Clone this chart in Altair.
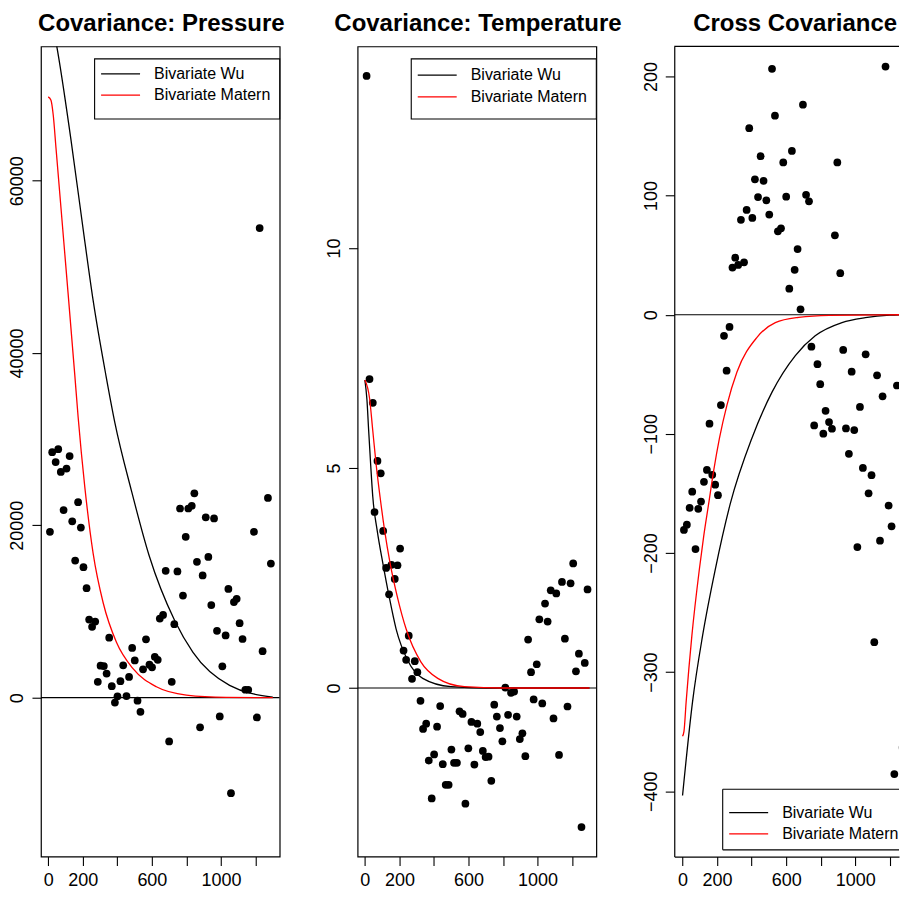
import altair as alt
import pandas as pd

# ---------------- data ----------------
PRES_X = [10, 23, 43, 58, 73, 89, 106, 124, 139, 156, 173, 189, 204, 222, 237, 254, 272, 287, 303, 322,
          338, 353, 368, 386, 401, 418, 434, 453, 468, 486, 501, 517, 534, 549, 566, 586, 601, 617, 634, 646,
          665, 680, 700, 715, 730, 748, 763, 780, 796, 811, 831, 846, 861, 879, 894, 912, 927, 944, 960, 977,
          993, 1008, 1027, 1043, 1058, 1075, 1091, 1108, 1125, 1141, 1158, 1191, 1208, 1224, 1241, 1272, 1289]
PRES_Y = [19245, 28490, 27345, 28840, 26200, 21770, 26590, 28035, 20460, 15916, 22685, 19737, 15147, 12700,
          9065, 8224, 8836, 1836, 3710, 3672, 2790, 6961, 1338, -574, 153, 1913, 3748, 191, 2410, 5775, 4322,
          -344, -1645, 3290, 6770, 3825, 3520, 4743, 4399, 9180, 9600, 14727, -5087, 1836, 8530, 14650, 21955,
          11856, 18666, 21955, 22262, 23715, 15760, -3443, 14190, 20925, 16330, 10750, 20808, 7764, -2180, 3634,
          7229, 12622, -11090, 11090, 11475, 8645, 6808, 918, 918, 19245, -2295, 54506, 5393, 23180, 15570]
PRES_WU_X = [0, 49, 131, 208, 260, 335, 386, 482, 584, 732, 838, 1050, 1300]
PRES_WU_Y = [80500, 75650, 64850, 53500, 46100, 37300, 31900, 24000, 16500, 8950, 5250, 1420, 60]
PRES_MAT_X = [0, 16, 29, 45, 100, 154, 173, 212, 260, 318, 395, 491, 626, 800, 1031, 1300]
PRES_MAT_Y = [69730, 69340, 67620, 63800, 50550, 37410, 32600, 24410, 16750, 11016, 6426, 3360, 1262, 306, 38, 0]

TEMP_X = [10, 27, 46, 56, 73, 92, 106, 123, 140, 154, 173, 189, 204, 224, 239, 254, 273, 289, 304, 322,
          337, 355, 370, 387, 401, 418, 436, 451, 468, 485, 501, 516, 533, 548, 566, 582, 599, 617, 634, 651,
          668, 683, 699, 716, 732, 749, 764, 782, 796, 813, 829, 846, 864, 879, 897, 912, 929, 945, 962, 977,
          995, 1010, 1027, 1043, 1058, 1076, 1092, 1108, 1124, 1141, 1158, 1173, 1191, 1206, 1222, 1239, 1254,
          1273, 1289]
TEMP_Y = [13.91, 7.02, 6.48, 4.00, 5.16, 4.88, 3.57, 2.73, 2.13, 2.80, 2.48, 2.79, 3.17, 0.85, 0.64, 1.19,
          0.21, 0.61, 0.36, -0.29, -0.93, -0.81, -1.65, -2.51, -1.51, -0.88, -0.41, -1.73, -2.20, -2.20, -1.40,
          -1.70, -1.70, -0.53, -0.59, -2.63, -1.37, -0.77, -1.74, -0.81, -1.00, -1.43, -1.57, -1.56, -2.11,
          -0.38, -0.65, -0.91, -1.21, 0.01, -0.61, -0.11, -0.08, -0.65, -1.16, -1.03, -1.55, 1.10, 0.36, -0.26,
          0.54, 1.56, -0.35, 1.92, 1.51, 2.22, -0.69, 2.15, -1.52, 2.41, 1.12, -0.42, 2.38, 2.83, 0.38, 0.78,
          -3.16, 0.57, 2.24]
TEMP_WU_X = [0, 12, 22, 34, 46, 71, 104, 140, 181, 249, 335, 499, 700, 1300]
TEMP_WU_Y = [7.0, 6.55, 5.85, 5.05, 4.34, 3.59, 2.84, 2.09, 1.34, 0.62, 0.22, 0.03, 0.0, 0.0]
TEMP_MAT_X = [0, 27, 46, 65, 88, 114, 146, 187, 239, 325, 422, 576, 800, 1300]
TEMP_MAT_Y = [7.0, 6.59, 5.84, 5.09, 4.34, 3.59, 2.84, 2.09, 1.34, 0.59, 0.22, 0.03, 0.0, 0.0]

CROSS_X = [8, 25, 41, 56, 75, 91, 107, 124, 141, 156, 172, 189, 205, 222, 240, 255, 272, 289, 305, 322,
           338, 356, 371, 386, 404, 419, 437, 452, 469, 485, 502, 518, 535, 552, 570, 583, 600, 618, 633, 649,
           666, 683, 697, 715, 732, 746, 762, 781, 797, 815, 828, 848, 865, 882, 896, 913, 930, 946, 963, 979,
           994, 1012, 1027, 1044, 1060, 1077, 1094, 1110, 1126, 1143, 1158, 1175, 1193, 1210, 1226, 1241, 1274,
           1289]
CROSS_Y = [-180.6, -176.2, -162.1, -148.5, -196.7, -162.9, -156.8, -140.2, -130.3, -91.5, -134.4, -142.7,
           -151.5, -75.8, -17.7, -47.0, -10.2, 39.6, 47.9, 41.8, 79.7, 44.0, 88.0, 156.6, 81.3, 113.7, 98.8,
           133.1, 112.4, 96.0, 84.1, 206.4, 167.1, 70.0, 72.5, 127.8, 99.1, 21.9, 137.5, 37.7, 55.1, 4.5, 176.3,
           100.7, 95.2, -26.8, -92.9, -41.5, -58.3, -99.8, -80.7, -90.1, -95.7, 66.7, 127.8, 34.9, -29.5, -95.4,
           -116.7, -47.8, -96.8, -195.0, -77.4, -128.6, -33.2, -149.9, -134.7, -274.9, -50.9, -189.7, -68.5,
           208.3, -160.2, -177.6, -385.6, -59.4, -363.2, -304.2]
CROSS_WU_X = [0, 58, 116, 189, 276, 402, 518, 653, 768, 923, 1058, 1200, 1300]
CROSS_WU_Y = [-403.6, -324.7, -269.4, -214.1, -158.8, -103.4, -65.0, -34.3, -17.7, -6.6, -2.5, -0.4, 0]
CROSS_MAT_X = [0, 8, 21, 54, 97, 122, 151, 180, 214, 257, 315, 431, 537, 672, 850, 1300]
CROSS_MAT_Y = [-353.8, -350, -324.7, -269.4, -214.1, -186.4, -158.8, -131.1, -103.4, -75.8, -48.1, -19.0,
               -6.6, -2.2, -0.5, 0]

X_TICKS = [0, 200, 400, 600, 800, 1000, 1200]
X_LABELED = [0, 200, 600, 1000]
PRES_TICKS = [0, 20000, 40000, 60000]
TEMP_TICKS = [0, 5, 10]
CROSS_TICKS = [-400, -300, -200, -100, 0, 100, 200]
TITLES = ["Covariance: Pressure", "Covariance: Temperature", "Cross Covariance"]
LEGEND_LABELS = ["Bivariate Wu", "Bivariate Matern"]
COLORS = ["black", "red"]

# ---------------- styling ----------------
FONT = "Liberation Sans"
W = 239
W3 = 225          # third panel is cut by the page edge, as in the original
H = 811
PX_PER_UNIT = W / 1382.0
LABEL_EXPR = "indexof([" + ",".join(str(v) for v in X_LABELED) + "], datum.value) >= 0 ? datum.label : ''"


def panel(px, py, wu, mat, ydom, yticks, title, xdom, width, box, rows, framed=True, title_x=120.5):
    pts = pd.DataFrame({"x": px, "y": py})
    wu_df = pd.DataFrame({"x": wu[0], "y": wu[1]})
    mat_df = pd.DataFrame({"x": mat[0], "y": mat[1]})
    xaxis = alt.Axis(title=None, values=X_TICKS, format="d", labelExpr=LABEL_EXPR, domain=not framed,
                     labelPadding=6)
    yaxis = alt.Axis(title=None, values=yticks, format="d", labelAngle=270, labelAlign="center",
                     labelBaseline="alphabetic", labelPadding=9, domain=not framed)
    xe = alt.X("x:Q", scale=alt.Scale(domain=xdom, nice=False, zero=False), axis=xaxis)
    ye = alt.Y("y:Q", scale=alt.Scale(domain=ydom, nice=False, zero=False), axis=yaxis)

    points = alt.Chart(pts).mark_circle(size=60, color="black", opacity=1, clip=True).encode(x=xe, y=ye)
    zero = alt.Chart(pd.DataFrame({"y": [0]})).mark_rule(color="black", strokeWidth=1.2, clip=True).encode(
        y=ye, x=alt.value(0), x2=alt.value(width))
    l_wu = alt.Chart(wu_df).mark_line(color=COLORS[0], strokeWidth=1.3, interpolate="monotone",
                                      clip=True).encode(x=xe, y=ye)
    l_mat = alt.Chart(mat_df).mark_line(color=COLORS[1], strokeWidth=1.3, interpolate="monotone",
                                        clip=True).encode(x=xe, y=ye)
    one = pd.DataFrame({"k": [0]})
    bx0, bx1, by0, by1 = box
    bx1 = min(bx1, width)
    layers = [zero, points, l_wu, l_mat]
    if framed:
        layers.append(alt.Chart(one).mark_rect(fill="white", stroke="black", strokeWidth=1.1).encode(
            x=alt.value(bx0), x2=alt.value(bx1), y=alt.value(by0), y2=alt.value(by1)))
    else:
        layers.append(alt.Chart(one).mark_rect(fill="white").encode(
            x=alt.value(bx0), x2=alt.value(bx1), y=alt.value(by0), y2=alt.value(by1)))
        for (xa, xb, ya, yb) in [(bx0, bx1, by0, by0), (bx0, bx1, by1, by1), (bx0, bx0, by0, by1)]:
            layers.append(alt.Chart(one).mark_rule(color="black", strokeWidth=1.1).encode(
                x=alt.value(xa), x2=alt.value(xb), y=alt.value(ya), y2=alt.value(yb)))
    for lab, col, ry in zip(LEGEND_LABELS, COLORS, rows):
        d = pd.DataFrame({"label": [lab]})
        layers.append(alt.Chart(d).mark_rule(color=col, strokeWidth=1.3).encode(
            x=alt.value(bx0 + 6.5), x2=alt.value(bx0 + 45.5), y=alt.value(ry)))
        layers.append(alt.Chart(d).mark_text(align="left", baseline="middle", font=FONT, fontSize=16,
                                             color="black", clip=True).encode(
            x=alt.value(bx0 + 59.5), y=alt.value(ry), text="label:N"))
    tdf = pd.DataFrame({"t": [title]})
    layers.append(alt.Chart(tdf).mark_text(align="center", baseline="alphabetic", font=FONT, fontSize=24,
                                           fontWeight="bold", color="black").encode(
        x=alt.value(title_x), y=alt.value(-15), text="t:N"))
    if not framed:
        layers.append(alt.Chart(one).mark_rule(color="black", strokeWidth=1.2).encode(
            x=alt.value(0), x2=alt.value(width), y=alt.value(0)))
    ch = alt.layer(*layers).properties(width=width, height=H)
    if not framed:
        ch = ch.properties(view=alt.ViewBackground(stroke="transparent"))
    return ch


p1 = panel(PRES_X, PRES_Y, (PRES_WU_X, PRES_WU_Y), (PRES_MAT_X, PRES_MAT_Y), [-18440, 75580], PRES_TICKS,
           TITLES[0], [-42, 1340], W, (53.7, 239, 12.4, 72.7), (27.5, 48.8))
p2 = panel(TEMP_X, TEMP_Y, (TEMP_WU_X, TEMP_WU_Y), (TEMP_MAT_X, TEMP_MAT_Y), [-3.83, 14.58], TEMP_TICKS,
           TITLES[1], [-42, 1340], W, (53.7, 239, 12.4, 72.7), (28.7, 50.4))
p3 = panel(CROSS_X, CROSS_Y, (CROSS_WU_X, CROSS_WU_Y), (CROSS_MAT_X, CROSS_MAT_Y), [-454.8, 225.2],
           CROSS_TICKS, TITLES[2], [-48, -48 + W3 / PX_PER_UNIT], W3,
           (48.5, 239, H - 67.4, H - 6.7), (H - 44.0, H - 22.7), framed=False, title_x=121)

chart = alt.hconcat(p1, p2, p3, spacing=78, bounds="flush").properties(
    padding={"left": 0, "top": 3, "right": 0, "bottom": 0}
).configure_view(
    stroke="black", strokeWidth=1.2
).configure_axis(
    labelFont=FONT, labelFontSize=18, labelColor="black", tickColor="black", tickSize=9, tickWidth=1.1,
    grid=False, labelFlush=False, labelOverlap=False, domainColor="black", domainWidth=1.2
)

chart.save("out.html", embed_options={"renderer": "svg", "actions": False})
